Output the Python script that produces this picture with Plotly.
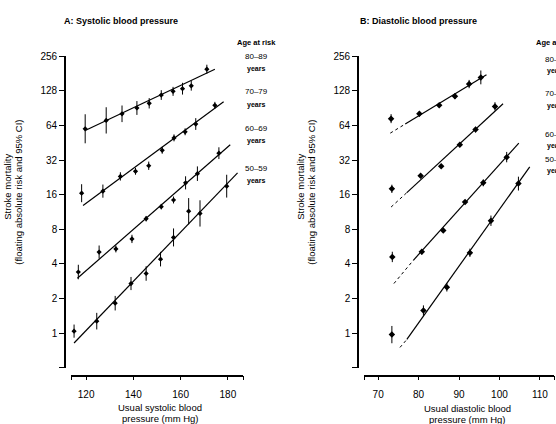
import plotly.graph_objects as go

W, H = 556, 424

# ---------------- Panel A: systolic ----------------
a_groups = ["80–89", "70–79", "60–69", "50–59"]
a_sbp = [
    [119.6, 128.5, 135.2, 141.5, 146.7, 151.8, 156.8, 160.8, 164.5, 171.1],
    [118.1, 127.1, 134.5, 140.9, 146.5, 152.2, 157.2, 161.9, 166.4, 174.5],
    [116.7, 125.5, 132.6, 139.4, 145.4, 151.8, 157.0, 162.1, 167.1, 176.2],
    [114.9, 124.5, 132.3, 139.0, 145.4, 151.5, 157.0, 163.4, 168.2, 179.5],
]
a_risk = [
    [60, 71, 81, 91, 100, 118, 127, 134, 142, 198],
    [16.5, 17.2, 23.1, 25.6, 28.6, 39, 50, 56.5, 66, 96],
    [3.4, 5.07, 5.4, 6.6, 9.9, 12.6, 14.4, 20.3, 24.4, 36.8],
    [1.04, 1.27, 1.82, 2.7, 3.3, 4.4, 6.8, 11.5, 11.0, 19],
]
# half-width of the 95% CI, in doublings (log2 units)
a_ci = [
    [0.42, 0.38, 0.24, 0.20, 0.15, 0.14, 0.13, 0.17, 0.14, 0.13],
    [0.26, 0.19, 0.12, 0.10, 0.12, 0.10, 0.10, 0.10, 0.17, 0.10],
    [0.21, 0.19, 0.10, 0.12, 0.08, 0.08, 0.10, 0.19, 0.21, 0.17],
    [0.19, 0.24, 0.21, 0.19, 0.21, 0.21, 0.26, 0.38, 0.38, 0.33],
]
a_line_x = [[119.6, 174.5], [118.7, 178.2], [116.3, 181.0], [114.9, 184.1]]
a_line_y = [[58, 198], [12.9, 103], [3.0, 43.5], [0.82, 24.8]]

# ---------------- Panel B: diastolic ----------------
b_dbp = [
    [73.2, 80.2, 85.1, 89.0, 92.5, 95.4],
    [73.4, 80.5, 85.6, 90.2, 94.1, 98.9],
    [73.5, 80.8, 86.1, 91.5, 96.0, 101.8],
    [73.4, 81.2, 87.0, 92.7, 97.9, 104.7],
]
b_risk = [
    [73.5, 81, 96, 115, 147, 168],
    [18, 23.4, 28.3, 43.5, 59, 94],
    [4.6, 5.1, 7.8, 13.8, 20.3, 34],
    [0.97, 1.57, 2.5, 5.0, 9.5, 20],
]
b_ci = [
    [0.13, 0.08, 0.05, 0.08, 0.12, 0.20],
    [0.12, 0.05, 0.05, 0.05, 0.08, 0.12],
    [0.15, 0.08, 0.05, 0.05, 0.10, 0.15],
    [0.25, 0.15, 0.12, 0.12, 0.15, 0.20],
]
b_line_x = [[76.7, 96.8], [77.1, 100.9], [78.7, 104.8], [77.1, 107.5]]
b_line_y = [[66, 177], [16.7, 99], [4.3, 45], [0.88, 28]]
b_dot_x = [[73.0, 76.7], [73.2, 77.1], [73.9, 78.7], [75.4, 77.1]]
b_dot_y = [[55, 66], [12.5, 16.7], [2.7, 4.3], [0.75, 0.88]]

y_ticks = [0.5, 1, 2, 4, 8, 16, 32, 64, 128, 256]
y_ticktext = ["", "1", "2", "4", "8", "16", "32", "64", "128", "256"]
a_xticks = [113.6, 120, 140, 160, 180, 186.4]
a_xtext = ["", "120", "140", "160", "180", ""]
b_xticks = [66.5, 70, 80, 90, 100, 110, 113.5]
b_xtext = ["", "70", "80", "90", "100", "110", ""]

FONT = "Liberation Sans, Arial, sans-serif"
fig = go.Figure()


def add_points(xs, ys, cis, xa, ya, msize):
    for x, y, c in zip(xs, ys, cis):
        plus = [v * (2 ** h - 1) for v, h in zip(y, c)]
        minus = [v * (1 - 2 ** (-h)) for v, h in zip(y, c)]
        fig.add_trace(go.Scatter(
            x=x, y=y, mode="markers", xaxis=xa, yaxis=ya,
            marker=dict(color="black", size=msize, symbol="diamond"),
            error_y=dict(type="data", array=plus, arrayminus=minus,
                         width=0, thickness=1, color="black"),
            showlegend=False, hoverinfo="skip"))


for lx, ly in zip(a_line_x, a_line_y):
    fig.add_trace(go.Scatter(x=lx, y=ly, mode="lines", xaxis="x", yaxis="y",
                             line=dict(color="black", width=1.2),
                             showlegend=False, hoverinfo="skip"))
add_points(a_sbp, a_risk, a_ci, "x", "y", 4)

for lx, ly in zip(b_dot_x, b_dot_y):
    fig.add_trace(go.Scatter(x=lx, y=ly, mode="lines", xaxis="x2", yaxis="y2",
                             line=dict(color="black", width=1, dash="dot"),
                             showlegend=False, hoverinfo="skip"))
for lx, ly in zip(b_line_x, b_line_y):
    fig.add_trace(go.Scatter(x=lx, y=ly, mode="lines", xaxis="x2", yaxis="y2",
                             line=dict(color="black", width=1.2),
                             showlegend=False, hoverinfo="skip"))
add_points(b_dbp, b_risk, b_ci, "x2", "y2", 5)

ydom = [1 - 367 / H, 1 - 52 / H]
xax_common = dict(showgrid=False, zeroline=False, showline=True, linecolor="black",
                  linewidth=1.6, ticks="outside", ticklen=4, tickwidth=1.2,
                  tickcolor="black", tickfont=dict(size=10, color="black", family=FONT),
                  anchor="free", position=1 - 375 / H, ticklabelstandoff=6)
yax_common = dict(type="log", range=[-0.30103, 2.40824], domain=ydom,
                  tickvals=y_ticks, ticktext=y_ticktext, showgrid=False,
                  zeroline=False, showline=True, linecolor="black", linewidth=1.6,
                  ticks="outside", ticklen=5, tickwidth=1.2, tickcolor="black",
                  tickfont=dict(size=10, color="black", family=FONT), anchor="free")

fig.update_layout(
    width=W, height=H, margin=dict(l=0, r=0, t=0, b=0),
    paper_bgcolor="white", plot_bgcolor="white",
    font=dict(family=FONT, color="black"),
    xaxis=dict(domain=[71 / W, 243 / W], range=[113.6, 186.4],
               tickvals=a_xticks, ticktext=a_xtext, **xax_common),
    yaxis=dict(position=65 / W, **yax_common),
    xaxis2=dict(domain=[364 / W, 554 / W], range=[66.5, 113.5],
                tickvals=b_xticks, ticktext=b_xtext, **xax_common),
    yaxis2=dict(position=358 / W, **yax_common),
)


def txt(x, y, s, size=8, bold=False, xanchor="left", angle=0):
    fig.add_annotation(x=x / W, y=1 - y / H, xref="paper", yref="paper",
                       text=f"<b>{s}</b>" if bold else s, showarrow=False,
                       xanchor=xanchor, yanchor="middle", textangle=angle,
                       font=dict(size=size, color="black", family=FONT))


txt(62, 16, "A: Systolic blood pressure", 9, True)
txt(358, 16, "B: Diastolic blood pressure", 9, True)

# y titles
txt(8, 184, "Stroke mortality", 9.5, False, "center", -90)
txt(19, 190, "(floating absolute risk and 95% CI)", 9.5, False, "center", -90)
txt(301, 184, "Stroke mortality", 9.5, False, "center", -90)
txt(312, 190, "(floating absolute risk and 95% CI)", 9.5, False, "center", -90)

# x titles
txt(160, 407, "Usual systolic blood", 9.5, False, "center")
txt(160, 418, "pressure (mm Hg)", 9.5, False, "center")
txt(467, 408, "Usual diastolic blood", 9.5, False, "center")
txt(467, 419, "pressure (mm Hg)", 9.5, False, "center")

# age labels
age_y_a = [52, 88, 125, 165]
txt(256, 38, "Age at risk", 7.5, True, "center")
for g, yy in zip(a_groups, age_y_a):
    txt(256, yy, g, 8, False, "center")
    txt(256, yy + 13, "years", 7, True, "center")
age_y_b = [55, 90, 131, 156]
txt(534, 38, "Age at risk", 7.5, True, "left")
for g, yy in zip(a_groups, age_y_b):
    txt(543, yy, g, 8, False, "left")
    txt(545, yy + 12, "years", 7, True, "left")

fig.write_html("out.html", config={"displayModeBar": False},
               post_script="document.body.style.margin='0';document.body.style.padding='0';")
